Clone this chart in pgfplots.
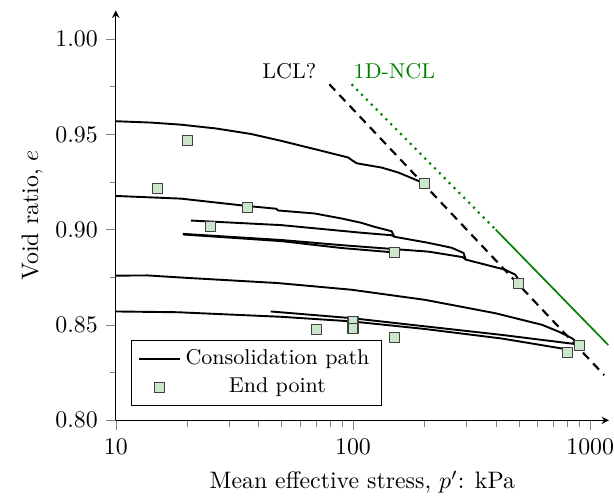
\documentclass[border=0pt]{standalone}
\usepackage{pgfplots}
\pgfplotsset{compat=1.18}
\definecolor{ncl}{RGB}{0,128,0}
\definecolor{ptfill}{RGB}{204,230,204}
\begin{document}
\begin{tikzpicture}
\begin{axis}[
  scale only axis, width=207pt, height=172pt,
  xmode=log, xmin=10, xmax=1200, ymin=0.8, ymax=1.015,
  axis lines=left, axis line style={-stealth},
  tick align=outside, tick style={gray}, major tick length=4pt, minor tick length=2.6pt,
  xtick={10,100,1000}, xticklabels={10,100,1000},
  x tick label style={inner xsep=0pt},
  minor xtick={20,30,40,50,60,70,80,90,200,300,400,500,600,700,800,900},
  ytick={0.80,0.85,0.90,0.95,1.00}, minor ytick={0.825,0.875,0.925,0.975},
  y tick label style={/pgf/number format/.cd, fixed, fixed zerofill, precision=2, /tikz/.cd},
  xlabel={Mean effective stress, $p'$: kPa}, ylabel={Void ratio, $e$},
  ylabel style={yshift=-1.5pt},
  legend style={at={(0.03,0.034)}, anchor=south west, cells={anchor=center}, draw=black, font=\small},
  clip=false,
  every axis plot/.append style={line join=round},
]
% consolidation paths
\addplot[black, line width=0.8pt] coordinates {
 (10,0.9569) (14.06,0.9562) (18.83,0.9551) (26.48,0.9531) (37.23,0.9502) (49.86,0.9466)
 (73.6,0.9414) (95.4,0.9379) (98.6,0.9366) (103.5,0.9349) (108.6,0.9344) (132.0,0.9326)
 (155.3,0.9300) (188.7,0.9256) (198.1,0.9243)};
\addlegendentry{Consolidation path}
\addplot[black, line width=0.8pt, forget plot] coordinates {
 (10,0.9177) (18.83,0.9163) (36.06,0.9124) (47.48,0.9110) (48.27,0.9101) (68.96,0.9085)
 (89.4,0.9059) (108.6,0.9036) (123.3,0.9015) (145.5,0.8992) (149.4,0.8963) (208,0.8931)
 (261,0.8905) (292.4,0.8878) (299,0.8843) (360.8,0.8817) (438.5,0.8790) (483.3,0.8764)
 (499.5,0.8738)};
\addplot[black, line width=0.8pt, forget plot] coordinates {
 (20.75,0.9048) (49.86,0.9024) (108.6,0.8984) (145.5,0.8971) (149.4,0.8963)};
\addplot[black, line width=0.8pt, forget plot] coordinates {
 (19.2,0.8978) (49.86,0.8946) (89.4,0.8919) (149.8,0.8898) (208,0.8885) (290.4,0.8856) (299,0.8843)};
\addplot[black, line width=0.8pt, forget plot] coordinates {
 (19.2,0.8975) (49.86,0.8940) (89.4,0.8904) (148.3,0.8881)};
\addplot[black, line width=0.8pt, forget plot] coordinates {
 (10,0.8759) (13.62,0.8760) (20.1,0.8747) (48.27,0.8720) (98.6,0.8685) (201.3,0.8632)
 (397.8,0.8562) (626.6,0.8501) (737.5,0.8465) (839,0.8430) (896,0.8400)};
\addplot[black, line width=0.8pt, forget plot] coordinates {
 (10,0.8571) (18.24,0.8567) (49.86,0.8543) (98.6,0.8519) (201.3,0.8479) (424.6,0.8429)
 (784,0.8374) (799,0.8358)};
\addplot[black, line width=0.8pt, forget plot] coordinates {
 (45,0.8571) (98.6,0.8536) (201.3,0.8493) (424.6,0.8448) (867,0.8400) (896,0.8393)};
% reference lines
\addplot[black, line width=0.9pt, dash pattern=on 3.6pt off 2.6pt, forget plot] coordinates {(79.5,0.9763) (1146,0.8237)};
\addplot[ncl, line width=0.9pt, dotted, forget plot] coordinates {(98.6,0.9763) (400,0.900)};
\addplot[ncl, line width=0.7pt, forget plot] coordinates {(400,0.900) (1192,0.8395)};
% end points
\addplot[only marks, mark=square*, mark size=2.1pt, mark options={fill=ptfill, draw=black!75, line width=0.5pt}] coordinates {
 (20,0.9468) (15,0.9216) (35.8,0.9116) (25,0.9016) (200,0.9242) (150,0.8879) (500,0.8716)
 (900,0.8391) (800,0.8356) (70,0.8477) (100,0.8517) (100,0.8481) (150,0.8433)};
\addlegendentry{End point}
\node[anchor=east, inner sep=1pt, font=\small] at (axis cs:72,0.9834) {LCL?};
\node[anchor=west, inner sep=1pt, text=ncl, font=\small] at (axis cs:98,0.9834) {1D-NCL};
\end{axis}
\path ([xshift=-5.7pt,yshift=4.2pt]current bounding box.north west);
\end{tikzpicture}
\end{document}
